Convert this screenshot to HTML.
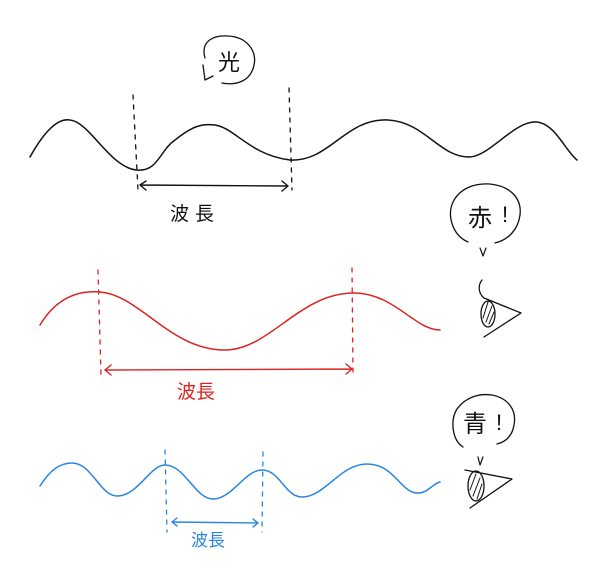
<!DOCTYPE html>
<html><head><meta charset="utf-8"><style>
html,body{margin:0;padding:0;background:#fff;width:600px;height:584px;overflow:hidden}
svg{display:block}
text{font-family:"Liberation Sans","Noto Sans CJK JP",sans-serif}
</style></head><body>
<svg width="600" height="584" viewBox="0 0 600 584" fill="none" stroke-linecap="round" stroke-linejoin="round">
<!-- black wave -->
<path d="M30,157 C45,130 58,118 70,120 C90,122 110,168 137,170 C158,172 160,150 175,140 C190,128 200,123 215,125 C235,128 250,155 290,160 C330,162 345,118 388,120 C425,122 440,158 470,157 C490,156 515,120 537,122 C555,124 565,150 577,160" stroke="#111" stroke-width="1.5"/>
<line x1="133" y1="95" x2="138" y2="190" stroke="#111" stroke-width="1.3" stroke-dasharray="4,6"/>
<line x1="289" y1="88" x2="292" y2="190" stroke="#111" stroke-width="1.3" stroke-dasharray="4,6"/>
<path d="M140,185 L288,186 M146,181 L140,185 L146,190 M282,181 L288,186 L282,191" stroke="#111" stroke-width="1.4"/>
<text x="195" y="220" font-size="19" fill="#111" text-anchor="middle" letter-spacing="6">波長</text>
<!-- 光 bubble -->
<path d="M205,58 C200,40 215,35 228,36 C248,37 257,52 254,65 C251,80 238,86 222,83 M203,65 L205,80 L213,76" stroke="#111" stroke-width="1.3"/>
<text x="229" y="70" font-size="22" fill="#111" text-anchor="middle">光</text>
<!-- red -->
<path d="M40,325 C55,300 75,290 100,292 C140,295 170,350 225,350 C270,350 300,292 355,293 C395,294 415,330 440,330" stroke="#d22" stroke-width="1.5"/>
<line x1="98" y1="270" x2="101" y2="375" stroke="#d22" stroke-width="1.3" stroke-dasharray="4,6"/>
<line x1="352" y1="268" x2="353" y2="372" stroke="#d22" stroke-width="1.3" stroke-dasharray="4,6"/>
<path d="M105,370 L352,369 M111,365 L105,370 L111,375 M346,364 L352,369 L346,374" stroke="#d22" stroke-width="1.4"/>
<text x="196" y="398" font-size="19" fill="#d22" text-anchor="middle">波長</text>
<!-- blue -->
<path d="M40,486 C50,470 60,463 72,463 C92,463 100,496 117,496 C138,496 150,465 165,465 C185,465 195,499 213,499 C232,499 245,470 262,470 C280,470 285,497 302,497 C325,497 340,464 367,464 C395,464 400,493 418,493 C428,493 432,484 440,482" stroke="#2a86e0" stroke-width="1.5"/>
<line x1="165" y1="450" x2="167" y2="532" stroke="#2a86e0" stroke-width="1.3" stroke-dasharray="4,6"/>
<line x1="263" y1="452" x2="262" y2="532" stroke="#2a86e0" stroke-width="1.3" stroke-dasharray="4,6"/>
<path d="M172,522 L258,523 M177,518 L172,522 L177,526 M253,519 L258,523 L253,527" stroke="#2a86e0" stroke-width="1.4"/>
<text x="208" y="546" font-size="17" fill="#2a86e0" text-anchor="middle">波長</text>
<!-- 赤 bubble -->
<path d="M468,242 C452,235 447,215 453,202 C460,188 475,183 490,184 C510,186 522,198 520,215 C518,230 508,240 495,243" stroke="#111" stroke-width="1.3"/>
<text x="480" y="226" font-size="24" fill="#111" text-anchor="middle">赤</text>
<text x="505" y="222" font-size="22" fill="#111" text-anchor="middle">!</text>
<path d="M480,248 L483,256 L486,248" stroke="#111" stroke-width="1.2"/>
<!-- eye red -->
<path d="M482,280 C478,285 478,293 484,298 L521,313 L484,337" stroke="#111" stroke-width="1.3"/>
<ellipse cx="488" cy="314" rx="7" ry="13" stroke="#111" stroke-width="1.3"/>
<path d="M483,318 L488,302 M486,322 L492,306 M489,324 L494,312" stroke="#111" stroke-width="1"/>
<!-- 青 bubble -->
<path d="M463,447 C452,440 450,420 457,409 C465,398 478,393 492,395 C508,398 517,410 514,425 C512,437 505,442 497,444" stroke="#111" stroke-width="1.3"/>
<text x="475" y="432" font-size="24" fill="#111" text-anchor="middle">青</text>
<text x="499" y="430" font-size="22" fill="#111" text-anchor="middle">!</text>
<path d="M478,457 L480,465 L483,457" stroke="#111" stroke-width="1.2"/>
<!-- eye blue -->
<path d="M465,470 L512,479 L470,508" stroke="#111" stroke-width="1.3"/>
<ellipse cx="476" cy="486" rx="8" ry="15" stroke="#111" stroke-width="1.3"/>
<path d="M470,490 L476,474 M473,496 L480,478 M477,499 L482,484" stroke="#111" stroke-width="1"/>
</svg>
</body></html>
